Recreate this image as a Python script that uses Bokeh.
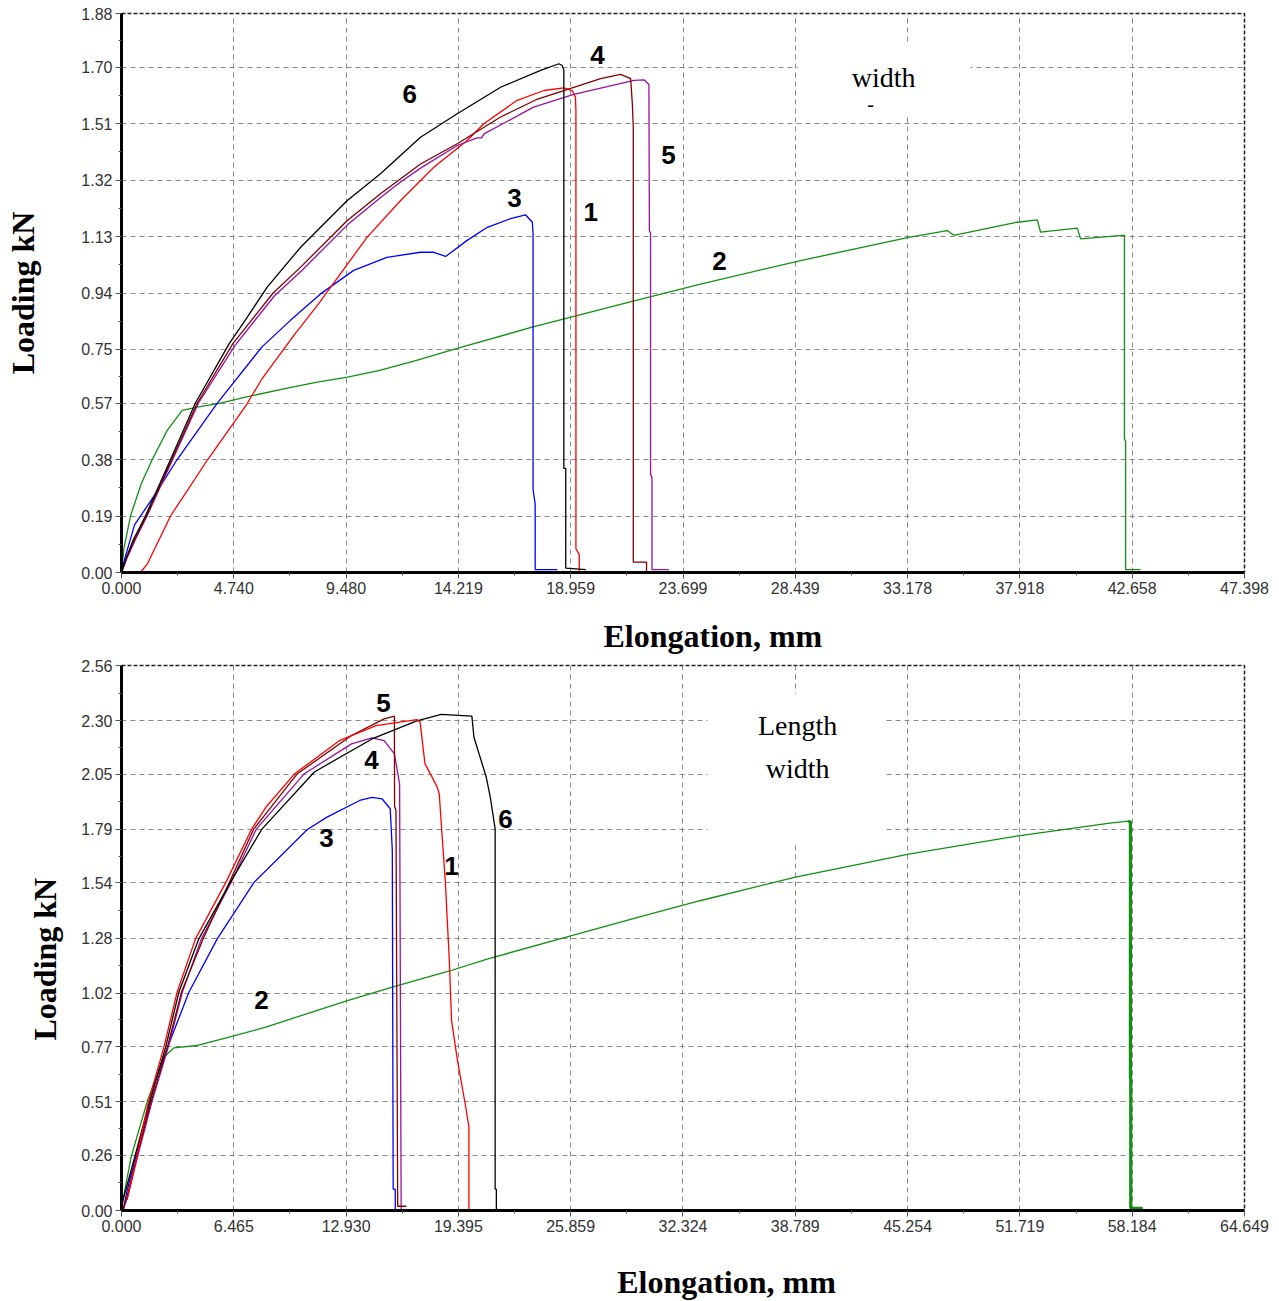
from bokeh.plotting import figure
from bokeh.models import FixedTicker, NumeralTickFormatter, BoxAnnotation, Label, Range1d, Title
from bokeh.layouts import column
from bokeh.embed import file_html
from bokeh.resources import INLINE

# ---------------- tick values ----------------
TOP_X_TICKS = [0.000, 4.740, 9.480, 14.219, 18.959, 23.699, 28.439, 33.178, 37.918, 42.658, 47.398]
TOP_Y_TICKS = [0.00, 0.19, 0.38, 0.57, 0.75, 0.94, 1.13, 1.32, 1.51, 1.70, 1.88]
BOT_X_TICKS = [0.000, 6.465, 12.930, 19.395, 25.859, 32.324, 38.789, 45.254, 51.719, 58.184, 64.649]
BOT_Y_TICKS = [0.00, 0.26, 0.51, 0.77, 1.02, 1.28, 1.54, 1.79, 2.05, 2.30, 2.56]

# ---------------- top chart (width) ----------------
T1_x = [0.80, 1.10, 2.07, 3.64, 5.28, 5.92, 7.30, 8.33, 10.37, 11.78, 13.18, 14.59, 15.29, 16.70, 17.83, 18.67, 19.02, 19.16, 19.18, 19.18, 19.32, 19.32]
T1_y = [0.00, 0.03, 0.19, 0.38, 0.565, 0.65, 0.80, 0.905, 1.128, 1.251, 1.363, 1.453, 1.509, 1.588, 1.621, 1.630, 1.621, 1.599, 1.55, 0.08, 0.06, 0.00]

T2_x = [0.00, 0.10, 0.38, 0.84, 1.30, 1.93, 2.56, 3.20, 4.18, 5.23, 6.95, 8.26, 9.54, 10.90, 12.45, 14.35, 17.29, 21.43, 24.44, 28.66, 33.17, 34.85, 35.13, 37.81, 38.65, 38.79, 40.34, 40.48, 42.24, 42.33, 42.33, 42.38, 42.38, 43.01]
T2_y = [0.00, 0.08, 0.19, 0.30, 0.38, 0.478, 0.545, 0.556, 0.57, 0.59, 0.619, 0.64, 0.657, 0.68, 0.713, 0.758, 0.824, 0.909, 0.97, 1.049, 1.126, 1.150, 1.134, 1.178, 1.186, 1.145, 1.158, 1.122, 1.134, 1.134, 0.45, 0.44, 0.01, 0.01]

T3_x = [0.00, 0.15, 0.55, 1.44, 2.35, 4.02, 5.92, 7.13, 8.40, 9.80, 11.20, 12.62, 13.18, 13.68, 14.59, 15.44, 16.42, 17.05, 17.34, 17.37, 17.37, 17.46, 17.46, 18.40]
T3_y = [0.00, 0.05, 0.16, 0.265, 0.38, 0.567, 0.758, 0.848, 0.937, 1.016, 1.060, 1.077, 1.077, 1.063, 1.117, 1.161, 1.190, 1.203, 1.178, 1.139, 0.28, 0.23, 0.01, 0.01]

T4_x = [0.00, 0.22, 0.55, 1.05, 2.12, 3.20, 4.70, 5.59, 6.40, 7.56, 9.53, 10.93, 12.62, 14.17, 16.00, 17.50, 18.67, 20.22, 21.06, 21.49, 21.56, 21.60, 21.60, 22.16, 22.16]
T4_y = [0.00, 0.05, 0.11, 0.19, 0.38, 0.57, 0.77, 0.859, 0.94, 1.027, 1.184, 1.274, 1.374, 1.442, 1.532, 1.59, 1.621, 1.661, 1.675, 1.661, 1.577, 1.50, 0.035, 0.035, 0.0]

T5_x = [0.00, 0.24, 0.58, 1.08, 2.16, 3.25, 4.80, 5.65, 6.45, 7.60, 9.55, 10.95, 11.78, 12.62, 14.17, 15.00, 15.20, 15.30, 17.39, 19.09, 21.63, 22.05, 22.26, 22.28, 22.33, 22.33, 22.39, 22.39, 23.10]
T5_y = [0.00, 0.05, 0.11, 0.19, 0.38, 0.57, 0.765, 0.85, 0.93, 1.015, 1.17, 1.262, 1.313, 1.36, 1.436, 1.462, 1.462, 1.475, 1.565, 1.608, 1.655, 1.657, 1.641, 1.15, 1.14, 0.33, 0.32, 0.01, 0.01]

T6_x = [0.00, 0.20, 0.50, 1.01, 2.07, 3.12, 4.54, 5.31, 6.15, 7.56, 9.53, 10.93, 12.62, 14.17, 16.00, 17.69, 18.46, 18.60, 18.67, 18.67, 18.75, 18.75, 19.60]
T6_y = [0.00, 0.05, 0.11, 0.19, 0.38, 0.57, 0.769, 0.859, 0.96, 1.094, 1.251, 1.341, 1.464, 1.543, 1.632, 1.689, 1.711, 1.705, 1.69, 0.35, 0.35, 0.015, 0.01]

# ---------------- bottom chart (length) ----------------
B1_x = [0.32, 0.90, 1.55, 2.45, 3.20, 4.26, 6.00, 7.48, 8.31, 9.95, 12.54, 14.65, 17.00, 17.19, 17.47, 18.17, 18.29, 18.65, 18.88, 19.00, 19.34, 19.82, 20.00, 20.00]
B1_y = [0.05, 0.26, 0.51, 0.77, 1.025, 1.276, 1.54, 1.79, 1.894, 2.05, 2.207, 2.278, 2.306, 2.294, 2.099, 1.990, 1.959, 1.534, 1.160, 0.892, 0.705, 0.485, 0.391, 0.00]

B2_x = [0.00, 0.08, 0.55, 1.50, 2.43, 3.02, 4.32, 6.19, 8.31, 10.65, 13.01, 15.59, 18.88, 21.00, 25.86, 29.88, 33.30, 38.80, 45.39, 51.73, 56.90, 57.96, 58.08, 58.08, 58.10, 58.10, 58.78]
B2_y = [0.00, 0.047, 0.25, 0.517, 0.72, 0.764, 0.775, 0.814, 0.861, 0.924, 0.986, 1.049, 1.125, 1.18, 1.29, 1.38, 1.455, 1.566, 1.675, 1.761, 1.82, 1.829, 1.825, 0.626, 0.62, 0.01, 0.01]

B3_x = [0.10, 0.32, 1.26, 1.96, 2.67, 3.88, 5.51, 7.62, 10.70, 11.83, 13.71, 14.42, 15.00, 15.47, 15.59, 15.64, 15.76, 15.76]
B3_y = [0.00, 0.094, 0.391, 0.611, 0.77, 1.025, 1.276, 1.54, 1.79, 1.848, 1.926, 1.941, 1.934, 1.887, 1.691, 0.10, 0.10, 0.00]

B4_x = [0.10, 0.40, 0.95, 1.75, 2.70, 3.50, 4.60, 6.30, 7.75, 10.50, 13.24, 14.42, 15.12, 15.71, 16.01, 16.10]
B4_y = [0.00, 0.08, 0.26, 0.51, 0.77, 1.025, 1.276, 1.54, 1.79, 2.05, 2.192, 2.22, 2.207, 2.145, 2.004, 0.00]

B5_x = [0.05, 0.30, 0.90, 1.70, 2.65, 3.45, 4.70, 6.20, 7.60, 10.10, 13.24, 15.12, 15.71, 15.72, 15.80, 15.90, 16.40]
B5_y = [0.00, 0.06, 0.26, 0.51, 0.77, 1.025, 1.276, 1.54, 1.79, 2.05, 2.231, 2.309, 2.322, 1.90, 1.88, 0.02, 0.02]

B6_x = [0.00, 0.08, 0.79, 1.61, 2.55, 3.30, 4.45, 6.25, 8.07, 11.10, 14.42, 17.00, 18.41, 20.17, 20.29, 21.00, 21.23, 21.51, 21.51, 21.58, 21.58]
B6_y = [0.00, 0.047, 0.26, 0.51, 0.77, 1.025, 1.276, 1.539, 1.79, 2.06, 2.215, 2.30, 2.33, 2.322, 2.223, 2.035, 1.942, 1.793, 0.10, 0.10, 0.00]

RED = "#ff0000"
GREEN = "#138f13"
BLUE = "#0000ff"
BLACK = "#000000"
BROWN = "#800000"
PURPLE = "#9a10a0"

NUM_FONT = "Liberation Sans, Arial, sans-serif"
SERIF = "Liberation Serif, Times New Roman, serif"
W = 1271
LEFT = 121
RIGHT = 27


def mids(t):
    return [(a + b) / 2 for a, b in zip(t[:-1], t[1:])]


def make_fig(xt, yt, xfmt, yfmt, height, top_border, bottom_border):
    p = figure(width=W, height=height, output_backend="svg", toolbar_location=None,
               x_range=Range1d(xt[0], xt[-1]), y_range=Range1d(yt[0], yt[-1]),
               min_border_left=LEFT, min_border_right=RIGHT, min_border_top=top_border,
               min_border_bottom=bottom_border)
    p.background_fill_color = "white"
    p.border_fill_color = "white"
    p.outline_line_color = "#222222"
    p.outline_line_dash = "4 2"
    p.outline_line_width = 1.5
    p.xaxis.ticker = FixedTicker(ticks=xt, minor_ticks=mids(xt))
    p.yaxis.ticker = FixedTicker(ticks=yt, minor_ticks=mids(yt))
    p.xaxis.formatter = NumeralTickFormatter(format=xfmt)
    p.yaxis.formatter = NumeralTickFormatter(format=yfmt)
    for ax in (p.xaxis, p.yaxis):
        ax.axis_line_color = "black"
        ax.axis_line_width = 3
        ax.major_tick_out = 6
        ax.major_tick_in = 0
        ax.minor_tick_out = 3
        ax.minor_tick_in = 0
        ax.major_tick_line_color = "#555555"
        ax.minor_tick_line_color = "#555555"
        ax.major_label_text_font = NUM_FONT
        ax.major_label_text_font_size = "16px"
        ax.major_label_text_color = "#333333"
        ax.axis_label_text_font = SERIF
        ax.axis_label_text_font_style = "bold"
        ax.axis_label_text_font_size = "32px"
        ax.axis_label_text_color = "black"
    p.xaxis.major_label_standoff = 3
    p.yaxis.major_label_standoff = 3
    for g in (p.xgrid, p.ygrid):
        g.grid_line_color = "#8a8a8a"
        g.grid_line_dash = "5 4"
        g.grid_line_width = 1
    return p


def side_title(p, text, where, offset, standoff, valign="bottom"):
    p.add_layout(Title(text=text, align="left", offset=offset, standoff=standoff,
                       vertical_align=valign,
                       text_font=SERIF, text_font_size="32px", text_font_style="bold",
                       text_color="black"), where)


def num_label(p, x, y, t):
    p.add_layout(Label(x=x, y=y, text=t, text_font=NUM_FONT, text_font_style="bold",
                       text_font_size="26px", text_color="black",
                       text_align="center", text_baseline="middle"))


def serif_label(p, x, y, t, size="28px", bold=False):
    p.add_layout(Label(x=x, y=y, text=t, text_font=SERIF, text_font_size=size,
                       text_font_style="bold" if bold else "normal",
                       text_color="black", text_align="center", text_baseline="middle"))


LW = 1.3

# ---------- top ----------
top = make_fig(TOP_X_TICKS, TOP_Y_TICKS, "0.000", "0.00", 602, 13, 30)
top.yaxis.axis_label = "Loading kN"
top.yaxis.axis_label_standoff = 37
top.add_layout(BoxAnnotation(left=28.54, right=35.84, bottom=1.544, top=1.773,
                             fill_color="white", fill_alpha=1.0, line_alpha=0, level="underlay"))
top.line(T2_x, T2_y, line_color=GREEN, line_width=LW)
top.line(T3_x, T3_y, line_color=BLUE, line_width=LW)
top.line(T1_x, T1_y, line_color=RED, line_width=LW)
top.line(T5_x, T5_y, line_color=PURPLE, line_width=LW)
top.line(T4_x, T4_y, line_color=BROWN, line_width=LW)
top.line(T6_x, T6_y, line_color=BLACK, line_width=LW)

num_label(top, 12.16, 1.608, "6")
num_label(top, 20.09, 1.739, "4")
num_label(top, 23.09, 1.403, "5")
num_label(top, 16.59, 1.261, "3")
num_label(top, 19.80, 1.211, "1")
num_label(top, 25.24, 1.049, "2")
serif_label(top, 32.17, 1.665, "width")
serif_label(top, 31.62, 1.575, "-", size="20px")

# ---------- bottom ----------
bot = make_fig(BOT_X_TICKS, BOT_Y_TICKS, "0.000", "0.00", 638, 63, 30)
# x title of the upper chart sits in the space above the lower chart
side_title(bot, "Elongation, mm", "above", 482, 23)
side_title(bot, "Loading kN", "left", 170, 28, valign="top")
bot.add_layout(BoxAnnotation(left=33.74, right=43.87, bottom=1.724, top=2.428,
                             fill_color="white", fill_alpha=1.0, line_alpha=0, level="underlay"))
bot.line(B2_x, B2_y, line_color=GREEN, line_width=LW)
bot.line(B2_x[-6:], B2_y[-6:], line_color=GREEN, line_width=3.2)
bot.line(B3_x, B3_y, line_color=BLUE, line_width=LW)
bot.line(B4_x, B4_y, line_color=PURPLE, line_width=LW)
bot.line(B5_x, B5_y, line_color=BROWN, line_width=LW)
bot.line(B6_x, B6_y, line_color=BLACK, line_width=LW)
bot.line(B1_x, B1_y, line_color=RED, line_width=LW)

num_label(bot, 15.08, 2.386, "5")
num_label(bot, 14.39, 2.118, "4")
num_label(bot, 11.80, 1.752, "3")
num_label(bot, 19.00, 1.616, "1")
num_label(bot, 22.11, 1.841, "6")
num_label(bot, 8.06, 0.991, "2")
serif_label(bot, 38.92, 2.278, "Length")
serif_label(bot, 38.92, 2.076, "width")

# ---------- strip holding the lower x-axis title (frame aligned with the charts) ----------
strip = figure(width=W, height=61, output_backend="svg", toolbar_location=None,
               x_range=Range1d(LEFT, W - RIGHT), y_range=Range1d(0, 61),
               x_axis_location=None, y_axis_location=None,
               min_border_left=LEFT, min_border_right=RIGHT, min_border_top=0, min_border_bottom=0)
strip.grid.visible = False
strip.outline_line_color = None
strip.background_fill_color = "white"
strip.border_fill_color = "white"
serif_label(strip, 726, 20, "Elongation, mm", size="32px", bold=True)

layout = column(top, bot, strip, spacing=0)
open("out.html", "w").write(file_html(layout, INLINE))
